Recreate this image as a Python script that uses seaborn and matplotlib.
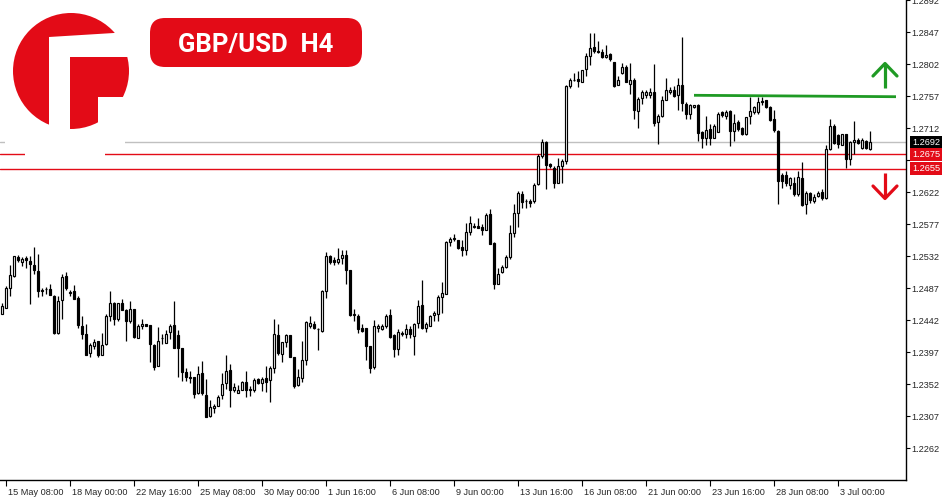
import numpy as np
import pandas as pd
import matplotlib
matplotlib.use("Agg")
import matplotlib.pyplot as plt
import matplotlib.transforms as mtransforms
from matplotlib.patches import Circle, Polygon, Rectangle, FancyBboxPatch
import seaborn as sns

# GBP/USD H4 candles (first bar = 15 May 04:00)
opens = [
    1.2450, 1.2459, 1.2487, 1.2504, 1.2531, 1.2524, 1.2529, 1.2525, 1.2520, 1.2511,
    1.2483, 1.2485, 1.2485, 1.2476, 1.2424, 1.2470, 1.2504, 1.2481, 1.2483, 1.2473,
    1.2434, 1.2423, 1.2396, 1.2406, 1.2412, 1.2393, 1.2408, 1.2448, 1.2466, 1.2443,
    1.2466, 1.2456, 1.2440, 1.2458, 1.2417, 1.2433, 1.2437, 1.2435, 1.2407, 1.2378,
    1.2416, 1.2410, 1.2425, 1.2435, 1.2421, 1.2402, 1.2369, 1.2362, 1.2362, 1.2340,
    1.2367, 1.2337, 1.2307, 1.2318, 1.2321, 1.2336, 1.2354, 1.2371, 1.2343, 1.2340,
    1.2344, 1.2355, 1.2344, 1.2344, 1.2359, 1.2354, 1.2361, 1.2357, 1.2375, 1.2421,
    1.2394, 1.2411, 1.2421, 1.2390, 1.2351, 1.2361, 1.2386, 1.2434, 1.2437, 1.2430,
    1.2427, 1.2483, 1.2532, 1.2526, 1.2524, 1.2529, 1.2533, 1.2513, 1.2449, 1.2448,
    1.2431, 1.2431, 1.2405, 1.2376, 1.2431, 1.2429, 1.2434, 1.2449, 1.2421, 1.2401,
    1.2422, 1.2422, 1.2430, 1.2420, 1.2438, 1.2463, 1.2431, 1.2434, 1.2449, 1.2451,
    1.2475, 1.2479, 1.2551, 1.2556, 1.2554, 1.2545, 1.2541, 1.2566, 1.2574, 1.2574,
    1.2573, 1.2569, 1.2591, 1.2550, 1.2492, 1.2510, 1.2516, 1.2530, 1.2564, 1.2593,
    1.2619, 1.2609, 1.2610, 1.2609, 1.2633, 1.2673, 1.2693, 1.2661, 1.2656, 1.2635,
    1.2659, 1.2666, 1.2771, 1.2780, 1.2781, 1.2776, 1.2795, 1.2813, 1.2826, 1.2820,
    1.2819, 1.2812, 1.2816, 1.2805, 1.2773, 1.2789, 1.2798, 1.2774, 1.2780, 1.2736,
    1.2754, 1.2758, 1.2758, 1.2763, 1.2720, 1.2729, 1.2752, 1.2762, 1.2765, 1.2758,
    1.2773, 1.2746, 1.2732, 1.2741, 1.2745, 1.2706, 1.2698, 1.2711, 1.2698, 1.2706,
    1.2734, 1.2729, 1.2736, 1.2708, 1.2720, 1.2712, 1.2703, 1.2729, 1.2735, 1.2734,
    1.2750, 1.2751, 1.2742, 1.2724, 1.2708, 1.2646, 1.2646, 1.2632, 1.2634, 1.2619,
    1.2642, 1.2605, 1.2621, 1.2609, 1.2616, 1.2622, 1.2613, 1.2683, 1.2715, 1.2702,
    1.2688, 1.2703, 1.2669, 1.2693, 1.2695, 1.2684, 1.2694, 1.2683,
]
highs = [
    1.2466, 1.2490, 1.2520, 1.2532, 1.2533, 1.2531, 1.2532, 1.2532, 1.2545, 1.2535,
    1.2487, 1.2488, 1.2493, 1.2477, 1.2476, 1.2506, 1.2509, 1.2484, 1.2491, 1.2476,
    1.2448, 1.2436, 1.2410, 1.2415, 1.2413, 1.2424, 1.2451, 1.2483, 1.2468, 1.2466,
    1.2471, 1.2457, 1.2469, 1.2458, 1.2436, 1.2443, 1.2437, 1.2435, 1.2408, 1.2432,
    1.2423, 1.2428, 1.2436, 1.2469, 1.2428, 1.2403, 1.2374, 1.2370, 1.2362, 1.2378,
    1.2385, 1.2359, 1.2330, 1.2324, 1.2336, 1.2368, 1.2393, 1.2380, 1.2354, 1.2351,
    1.2356, 1.2370, 1.2349, 1.2361, 1.2361, 1.2362, 1.2378, 1.2377, 1.2444, 1.2437,
    1.2411, 1.2423, 1.2421, 1.2390, 1.2373, 1.2412, 1.2441, 1.2448, 1.2440, 1.2431,
    1.2484, 1.2537, 1.2533, 1.2530, 1.2543, 1.2541, 1.2540, 1.2513, 1.2457, 1.2451,
    1.2437, 1.2431, 1.2405, 1.2442, 1.2436, 1.2436, 1.2450, 1.2458, 1.2423, 1.2430,
    1.2427, 1.2436, 1.2434, 1.2438, 1.2470, 1.2498, 1.2439, 1.2449, 1.2455, 1.2477,
    1.2496, 1.2553, 1.2559, 1.2563, 1.2555, 1.2555, 1.2579, 1.2588, 1.2579, 1.2586,
    1.2577, 1.2593, 1.2598, 1.2551, 1.2515, 1.2520, 1.2533, 1.2575, 1.2605, 1.2623,
    1.2623, 1.2612, 1.2612, 1.2635, 1.2676, 1.2697, 1.2694, 1.2663, 1.2658, 1.2670,
    1.2668, 1.2772, 1.2783, 1.2790, 1.2792, 1.2794, 1.2817, 1.2846, 1.2846, 1.2834,
    1.2823, 1.2829, 1.2818, 1.2805, 1.2785, 1.2804, 1.2801, 1.2804, 1.2782, 1.2756,
    1.2765, 1.2766, 1.2768, 1.2802, 1.2731, 1.2757, 1.2783, 1.2770, 1.2771, 1.2783,
    1.2840, 1.2748, 1.2746, 1.2745, 1.2746, 1.2708, 1.2729, 1.2718, 1.2718, 1.2734,
    1.2736, 1.2738, 1.2737, 1.2731, 1.2723, 1.2713, 1.2727, 1.2756, 1.2743, 1.2756,
    1.2755, 1.2751, 1.2743, 1.2737, 1.2709, 1.2649, 1.2651, 1.2643, 1.2643, 1.2651,
    1.2664, 1.2623, 1.2622, 1.2619, 1.2623, 1.2626, 1.2688, 1.2724, 1.2717, 1.2704,
    1.2704, 1.2704, 1.2694, 1.2722, 1.2698, 1.2698, 1.2695, 1.2708,
]
lows = [
    1.2450, 1.2459, 1.2476, 1.2503, 1.2524, 1.2518, 1.2515, 1.2465, 1.2506, 1.2475,
    1.2476, 1.2478, 1.2477, 1.2422, 1.2422, 1.2443, 1.2484, 1.2476, 1.2472, 1.2431,
    1.2415, 1.2393, 1.2390, 1.2401, 1.2390, 1.2393, 1.2407, 1.2440, 1.2435, 1.2441,
    1.2456, 1.2412, 1.2438, 1.2417, 1.2416, 1.2430, 1.2433, 1.2383, 1.2372, 1.2377,
    1.2408, 1.2410, 1.2415, 1.2402, 1.2362, 1.2356, 1.2356, 1.2354, 1.2332, 1.2338,
    1.2337, 1.2306, 1.2306, 1.2311, 1.2321, 1.2331, 1.2345, 1.2320, 1.2341, 1.2339,
    1.2343, 1.2334, 1.2335, 1.2341, 1.2352, 1.2342, 1.2341, 1.2326, 1.2367, 1.2393,
    1.2383, 1.2404, 1.2390, 1.2347, 1.2349, 1.2355, 1.2379, 1.2431, 1.2430, 1.2400,
    1.2425, 1.2473, 1.2521, 1.2519, 1.2521, 1.2521, 1.2493, 1.2448, 1.2440, 1.2424,
    1.2425, 1.2386, 1.2367, 1.2373, 1.2425, 1.2428, 1.2431, 1.2416, 1.2390, 1.2393,
    1.2420, 1.2416, 1.2416, 1.2393, 1.2431, 1.2430, 1.2425, 1.2433, 1.2441, 1.2440,
    1.2452, 1.2479, 1.2546, 1.2553, 1.2542, 1.2532, 1.2534, 1.2562, 1.2571, 1.2571,
    1.2562, 1.2568, 1.2549, 1.2486, 1.2492, 1.2508, 1.2515, 1.2528, 1.2559, 1.2573,
    1.2600, 1.2600, 1.2601, 1.2607, 1.2632, 1.2670, 1.2626, 1.2656, 1.2628, 1.2635,
    1.2635, 1.2662, 1.2768, 1.2778, 1.2769, 1.2776, 1.2785, 1.2801, 1.2818, 1.2817,
    1.2810, 1.2810, 1.2806, 1.2769, 1.2773, 1.2788, 1.2776, 1.2760, 1.2725, 1.2712,
    1.2746, 1.2754, 1.2754, 1.2715, 1.2690, 1.2727, 1.2752, 1.2760, 1.2756, 1.2738,
    1.2736, 1.2724, 1.2724, 1.2740, 1.2694, 1.2684, 1.2688, 1.2688, 1.2698, 1.2706,
    1.2727, 1.2724, 1.2687, 1.2694, 1.2708, 1.2702, 1.2702, 1.2717, 1.2731, 1.2732,
    1.2745, 1.2740, 1.2722, 1.2707, 1.2605, 1.2628, 1.2630, 1.2626, 1.2616, 1.2616,
    1.2602, 1.2591, 1.2607, 1.2607, 1.2615, 1.2611, 1.2612, 1.2681, 1.2690, 1.2684,
    1.2688, 1.2656, 1.2660, 1.2675, 1.2689, 1.2682, 1.2683, 1.2681,
]
closes = [
    1.2462, 1.2487, 1.2505, 1.2532, 1.2526, 1.2528, 1.2526, 1.2521, 1.2512, 1.2483,
    1.2484, 1.2486, 1.2477, 1.2424, 1.2469, 1.2503, 1.2487, 1.2480, 1.2472, 1.2435,
    1.2423, 1.2393, 1.2407, 1.2411, 1.2393, 1.2407, 1.2448, 1.2466, 1.2444, 1.2466,
    1.2456, 1.2440, 1.2458, 1.2418, 1.2434, 1.2437, 1.2434, 1.2408, 1.2376, 1.2413,
    1.2417, 1.2423, 1.2434, 1.2402, 1.2402, 1.2369, 1.2362, 1.2361, 1.2338, 1.2366,
    1.2339, 1.2306, 1.2320, 1.2321, 1.2334, 1.2352, 1.2370, 1.2343, 1.2348, 1.2344,
    1.2355, 1.2344, 1.2345, 1.2358, 1.2353, 1.2359, 1.2355, 1.2375, 1.2422, 1.2396,
    1.2411, 1.2421, 1.2390, 1.2349, 1.2362, 1.2386, 1.2439, 1.2438, 1.2431, 1.2430,
    1.2483, 1.2532, 1.2524, 1.2523, 1.2528, 1.2534, 1.2513, 1.2449, 1.2450, 1.2430,
    1.2427, 1.2405, 1.2374, 1.2434, 1.2434, 1.2434, 1.2448, 1.2418, 1.2401, 1.2425,
    1.2424, 1.2429, 1.2423, 1.2437, 1.2462, 1.2431, 1.2436, 1.2448, 1.2452, 1.2475,
    1.2480, 1.2552, 1.2556, 1.2557, 1.2543, 1.2540, 1.2566, 1.2579, 1.2573, 1.2572,
    1.2568, 1.2590, 1.2549, 1.2492, 1.2507, 1.2516, 1.2531, 1.2564, 1.2593, 1.2620,
    1.2608, 1.2609, 1.2607, 1.2632, 1.2673, 1.2693, 1.2660, 1.2658, 1.2635, 1.2658,
    1.2666, 1.2771, 1.2780, 1.2779, 1.2778, 1.2794, 1.2813, 1.2825, 1.2820, 1.2819,
    1.2812, 1.2815, 1.2809, 1.2771, 1.2780, 1.2798, 1.2777, 1.2780, 1.2738, 1.2753,
    1.2762, 1.2763, 1.2763, 1.2719, 1.2729, 1.2752, 1.2766, 1.2766, 1.2757, 1.2773,
    1.2747, 1.2731, 1.2745, 1.2744, 1.2705, 1.2698, 1.2709, 1.2698, 1.2715, 1.2731,
    1.2730, 1.2735, 1.2708, 1.2719, 1.2710, 1.2704, 1.2727, 1.2736, 1.2742, 1.2748,
    1.2748, 1.2742, 1.2723, 1.2709, 1.2638, 1.2638, 1.2634, 1.2642, 1.2619, 1.2643,
    1.2604, 1.2620, 1.2611, 1.2615, 1.2621, 1.2613, 1.2683, 1.2715, 1.2691, 1.2690,
    1.2703, 1.2668, 1.2692, 1.2695, 1.2691, 1.2695, 1.2684, 1.2692,
]

date_labels = ["15 May 08:00", "18 May 00:00", "22 May 16:00", "25 May 08:00",
               "30 May 00:00", "1 Jun 16:00", "6 Jun 08:00", "9 Jun 00:00",
               "13 Jun 16:00", "16 Jun 08:00", "21 Jun 00:00", "23 Jun 16:00",
               "28 Jun 08:00", "3 Jul 00:00"]
price_ticks = [1.2262, 1.2307, 1.2352, 1.2397, 1.2442, 1.2487, 1.2532, 1.2577,
               1.2622, 1.2667, 1.2712, 1.2757, 1.2802, 1.2847, 1.2892]
bid_price = 1.2692
support_levels = [1.2675, 1.2655]
resistance_bars = [173, 223.5]
resistance_prices = [1.2758, 1.2756]

RED = "#e30b17"
GREEN = "#1f9a24"

sns.set_theme(style="white")
plt.rcParams['font.family'] = ['Liberation Sans', 'DejaVu Sans']

df = pd.DataFrame({'open': opens, 'high': highs, 'low': lows, 'close': closes})
df['bar'] = np.arange(len(df))
df['up'] = df['close'] >= df['open']
df['body_lo'] = df[['open', 'close']].min(axis=1)
df['body_h'] = (df['close'] - df['open']).abs()

fig = plt.figure(figsize=(9.5, 5), dpi=100)
ax = fig.add_axes([0, 0.04, 906 / 950, 0.96])

# wicks and bodies
ax.vlines(df['bar'], df['low'], df['high'], color='black', linewidth=0.9, zorder=2)
ax.bar(df['bar'], df['body_h'], bottom=df['body_lo'], width=0.58,
       color=np.where(df['up'], 'white', 'black'), edgecolor='black',
       linewidth=0.85, zorder=3)

# levels
ax.axhline(bid_price, color='#c0c0c0', linewidth=1, zorder=1)
for lvl in support_levels:
    ax.axhline(lvl, color=RED, linewidth=1, zorder=1)
ax.plot(resistance_bars, resistance_prices, color=GREEN, linewidth=2, zorder=4,
        solid_capstyle='butt')

ax.set_xlim(-0.5, 226)
ax.set_ylim(1.2217, 1.2892)

sns.despine(ax=ax, left=True, top=True, right=False, bottom=False)
for s in ['right', 'bottom']:
    ax.spines[s].set_color('black')
    ax.spines[s].set_linewidth(1)

ax.yaxis.tick_right()
ax.set_yticks(price_ticks)
ax.set_yticklabels(['' if abs(p - 1.2667) < 1e-6 else f"{p:.4f}" for p in price_ticks])
ax.tick_params(axis='y', which='major', direction='out', length=3, width=0.8,
               color='black', labelsize=6.6, pad=1.2, right=True, left=False)

ax.set_xticks(1 + 16 * np.arange(len(date_labels)))
ax.set_xticklabels(date_labels)
ax.tick_params(axis='x', which='major', direction='out', length=4, width=0.8,
               color='black', labelsize=6.6, pad=1.5, bottom=True)
offset = mtransforms.ScaledTranslation(2 / 100, 0, fig.dpi_scale_trans)
for lab in ax.get_xticklabels():
    lab.set_horizontalalignment('left')
    lab.set_transform(lab.get_transform() + offset)
ax.set_xlabel('')
ax.set_ylabel('')
ax.grid(False)

# price boxes on the right axis
trans = mtransforms.blended_transform_factory(ax.transAxes, ax.transData)
for price, bg in [(bid_price, 'black'), (support_levels[0], RED), (support_levels[1], RED)]:
    ax.text(1.0068, price, f"{price:.4f}", transform=trans, color='white',
            fontsize=6.6, ha='left', va='center', clip_on=False, zorder=6,
            bbox=dict(boxstyle='square,pad=0.22', facecolor=bg, edgecolor='none'))

# overlay in pixel space: logo, title badge, arrows
ov = fig.add_axes([0, 0, 1, 1], zorder=10)
ov.set_xlim(0, 950)
ov.set_ylim(500, 0)
ov.axis('off')
ov.patch.set_alpha(0)

# white backdrop of the logo hides part of the level lines
ov.add_patch(Rectangle((5, 139), 120, 6, color='white', lw=0))
ov.add_patch(Rectangle((25, 151), 80, 6, color='white', lw=0))

ov.add_patch(Circle((71, 71), 58, color=RED, lw=0))
ov.add_patch(Polygon([(49, 37), (130, 32), (135, 32), (135, 57), (70, 57),
                      (70, 135), (49, 135)], closed=True, color='white', lw=0))
ov.add_patch(Rectangle((98, 97), 40, 40, color='white', lw=0))

ov.add_patch(FancyBboxPatch((150, 18), 212, 49, boxstyle='round,pad=0,rounding_size=15',
                            facecolor=RED, edgecolor='none'))
ov.text(256, 52, "GBP/USD  H4", color='white', fontsize=18.5, fontweight='bold',
        family=['Roboto', 'DejaVu Sans'], ha='center', va='baseline')

ov.plot([885, 885], [88, 64], color=GREEN, lw=2.3, solid_capstyle='butt')
ov.plot([873, 885, 897], [76, 63.5, 76], color=GREEN, lw=2.3)
ov.plot([885, 885], [173, 197], color=RED, lw=2.3, solid_capstyle='butt')
ov.plot([873, 885, 897], [186, 198.5, 186], color=RED, lw=2.3)

fig.savefig('out.png', dpi=100, facecolor='white')
